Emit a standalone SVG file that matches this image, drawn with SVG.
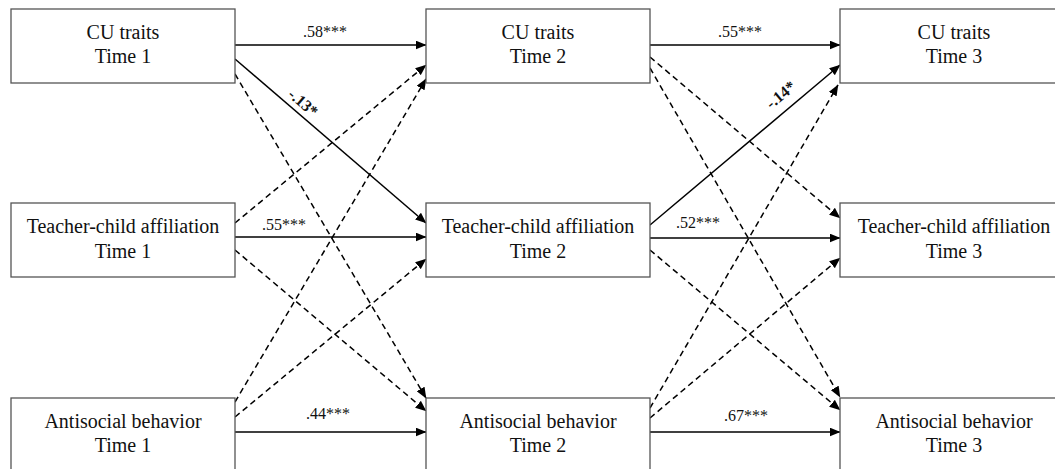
<svg xmlns="http://www.w3.org/2000/svg" width="1055" height="469" viewBox="0 0 1055 469">
<style>
.box{fill:#fff;stroke:#555;stroke-width:1.3}
.nt{font-family:"Liberation Serif","Times New Roman",serif;font-size:20px;fill:#111;text-anchor:middle}
.lb{font-family:"Liberation Serif","Times New Roman",serif;font-size:16px;fill:#111;text-anchor:middle}
.bd{font-weight:bold}
.s{stroke:#000;stroke-width:1.5;fill:none;marker-end:url(#ah)}
.d{stroke:#000;stroke-width:1.5;fill:none;stroke-dasharray:6 4;marker-end:url(#ah)}
</style>
<defs>
<marker id="ah" markerUnits="userSpaceOnUse" markerWidth="11" markerHeight="9" refX="10.5" refY="4.5" orient="auto">
<path d="M0,0 L11,4.5 L0,9 z" fill="#000"/>
</marker>
</defs>
<rect width="1055" height="469" fill="#fff"/>
<g id="connectors">
<line class="s" x1="235" y1="45" x2="426" y2="45"/>
<line class="s" x1="235" y1="59" x2="426" y2="223"/>
<line class="d" x1="235" y1="74" x2="426" y2="398"/>
<line class="d" x1="235" y1="223" x2="426" y2="65"/>
<line class="s" x1="235" y1="237" x2="426" y2="237"/>
<line class="d" x1="235" y1="250" x2="426" y2="411"/>
<line class="d" x1="235" y1="402" x2="426" y2="79"/>
<line class="d" x1="235" y1="417" x2="426" y2="259"/>
<line class="s" x1="235" y1="432" x2="426" y2="432"/>
<line class="s" x1="650" y1="45" x2="840" y2="45"/>
<line class="d" x1="650" y1="57" x2="840" y2="218"/>
<line class="d" x1="650" y1="68" x2="840" y2="397"/>
<line class="s" x1="650" y1="225" x2="840" y2="65"/>
<line class="s" x1="650" y1="238" x2="840" y2="238"/>
<line class="d" x1="650" y1="250" x2="840" y2="410"/>
<line class="d" x1="650" y1="408" x2="838" y2="85"/>
<line class="d" x1="650" y1="418" x2="840" y2="258"/>
<line class="s" x1="650" y1="432" x2="840" y2="432"/>
<text class="lb" x="325" y="37">.58***</text>
<text class="lb" x="740" y="37">.55***</text>
<text class="lb" x="284" y="230">.55***</text>
<text class="lb" x="698" y="228">.52***</text>
<text class="lb" x="328" y="419">.44***</text>
<text class="lb" x="746" y="421">.67***</text>
<text class="lb bd" x="303" y="108" transform="rotate(40.6 303 103)">-.13*</text>
<text class="lb bd" x="781" y="100" transform="rotate(-39.6 781 95)">-.14*</text>
</g>
<g id="cu1"><rect class="box" x="11" y="9" width="224" height="74"/><text class="nt" x="123" y="39">CU traits</text><text class="nt" x="123" y="63">Time 1</text></g>
<g id="cu2"><rect class="box" x="426" y="9" width="224" height="74"/><text class="nt" x="538" y="39">CU traits</text><text class="nt" x="538" y="63">Time 2</text></g>
<g id="cu3"><rect class="box" x="840" y="9" width="228" height="74"/><text class="nt" x="954" y="39">CU traits</text><text class="nt" x="954" y="63">Time 3</text></g>
<g id="tca1"><rect class="box" x="11" y="203" width="224" height="74"/><text class="nt" x="123" y="233">Teacher-child affiliation</text><text class="nt" x="123" y="258">Time 1</text></g>
<g id="tca2"><rect class="box" x="426" y="203" width="224" height="74"/><text class="nt" x="538" y="233">Teacher-child affiliation</text><text class="nt" x="538" y="258">Time 2</text></g>
<g id="tca3"><rect class="box" x="840" y="203" width="228" height="74"/><text class="nt" x="954" y="233">Teacher-child affiliation</text><text class="nt" x="954" y="258">Time 3</text></g>
<g id="ab1"><rect class="box" x="11" y="398" width="224" height="74"/><text class="nt" x="123" y="428">Antisocial behavior</text><text class="nt" x="123" y="452">Time 1</text></g>
<g id="ab2"><rect class="box" x="426" y="398" width="224" height="74"/><text class="nt" x="538" y="428">Antisocial behavior</text><text class="nt" x="538" y="452">Time 2</text></g>
<g id="ab3"><rect class="box" x="840" y="398" width="228" height="74"/><text class="nt" x="954" y="428">Antisocial behavior</text><text class="nt" x="954" y="452">Time 3</text></g>
</svg>
